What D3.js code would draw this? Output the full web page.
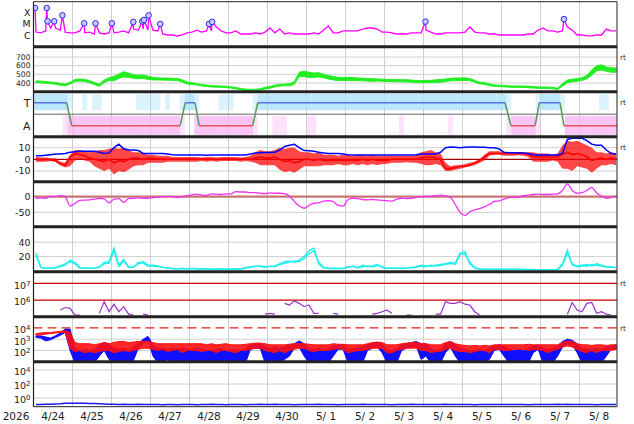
<!DOCTYPE html>
<html><head><meta charset="utf-8">
<script src="https://cdn.jsdelivr.net/npm/d3@7"></script>
<style>body{margin:0;background:#fff}svg{display:block;font-family:"DejaVu Sans",sans-serif}</style>
</head><body><svg id="c" width="634" height="424"></svg>
<script>
// ---------- DATA (3-hour bins starting 2026-04-24 00:00 UT, 8 per day) ----------
const dayLabels = ["4/24","4/25","4/26","4/27","4/28","4/29","4/30","5/ 1","5/ 2","5/ 3","5/ 4","5/ 5","5/ 6","5/ 7","5/ 8"];
const yearLabel = "2026";

// X-ray background flux (W/m2)
const xrayBase = [
 2.0e-6,1.7e-6,2.5e-6,4.6e-6,4.6e-6,3.0e-6,2.0e-6,1.7e-6,
 1.7e-6,2.5e-6,1.7e-6,2.0e-6,1.35e-6,1.7e-6,1.35e-6,1.7e-6,
 1.7e-6,2.0e-6,2.5e-6,1.7e-6,3.7e-6,3.0e-6,3.7e-6,3.0e-6,
 3.0e-6,2.5e-6,1.35e-6,1.1e-6,1.1e-6,0.9e-6,1.1e-6,1.7e-6,
 2.0e-6,3.0e-6,2.0e-6,2.5e-6,2.5e-6,5.6e-6,2.5e-6,1.7e-6,
 1.7e-6,2.5e-6,1.35e-6,1.35e-6,1.35e-6,1.7e-6,1.35e-6,2.0e-6,
 4.6e-6,1.7e-6,3.7e-6,1.35e-6,1.7e-6,1.35e-6,1.35e-6,1.35e-6,
 1.35e-6,1.7e-6,1.35e-6,3.0e-6,6.9e-6,1.7e-6,1.7e-6,2.5e-6,
 2.5e-6,2.5e-6,2.5e-6,3.7e-6,4.6e-6,4.6e-6,3.7e-6,2.0e-6,
 2.0e-6,1.7e-6,1.35e-6,1.35e-6,1.35e-6,1.7e-6,1.7e-6,1.7e-6,
 3.0e-6,2.0e-6,1.35e-6,1.35e-6,1.7e-6,1.7e-6,1.7e-6,1.7e-6,
 2.0e-6,5.6e-6,2.0e-6,1.7e-6,1.7e-6,1.35e-6,1.35e-6,1.1e-6,
 1.1e-6,1.1e-6,1.1e-6,1.1e-6,1.1e-6,1.35e-6,1.35e-6,3.0e-6,
 4.6e-6,2.5e-6,2.5e-6,2.0e-6,2.5e-6,5.6e-6,3.0e-6,1.1e-6,
 1.1e-6,0.9e-6,0.9e-6,1.1e-6,1.1e-6,3.7e-6,2.5e-6,2.5e-6];
// flare peaks: day offset, flux
const flareDay  = [0.04,0.34,0.36,0.53,0.74,1.30,1.59,2.01,2.56,2.79,2.83,2.95,3.25,4.50,4.58,10.05,13.60];
const flarePeak = [2.75e-4,2.75e-4,1.8e-5,1.8e-5,6.1e-5,1.2e-5,1.2e-5,1.2e-5,1.6e-5,1.8e-5,2.4e-5,6.1e-5,1.05e-5,1.05e-5,1.6e-5,1.7e-5,2.8e-5];

// solar wind speed (km/s) and scatter half-range
const speed = [
 415,412,408,402,397,385,378,398, 430,435,430,415,395,375,420,446,
 450,480,500,490,475,470,472,460, 450,448,446,445,444,440,425,400,
 395,385,375,368,362,360,358,356, 350,340,330,322,320,320,325,340,
 350,365,375,378,380,400,500,505, 495,490,495,480,466,455,448,446,
 446,445,444,440,437,435,435,433, 430,428,427,426,425,422,418,415,
 420,418,422,425,432,440,443,443, 445,440,420,400,395,380,370,366,
 365,360,358,358,357,355,350,347, 346,345,342,332,380,418,430,435,
 445,470,520,570,580,560,550,548];
const speedSpread = [
 10,10,10,10,10,10,10,10, 12,12,12,12,12,12,15,15,
 25,25,30,25,20,20,20,18, 15,12,12,12,12,12,12,12,
 10,8,8,8,8,8,8,8, 8,8,8,8,8,8,8,10,
 10,10,10,10,12,15,25,30, 30,25,25,20,20,20,18,18,
 18,18,15,15,15,15,12,12, 12,12,12,12,12,12,12,12,
 12,12,15,15,15,15,15,15, 15,12,10,10,10,10,8,8,
 8,8,8,8,8,8,8,8, 8,8,8,8,15,15,15,15,
 15,20,30,30,30,25,25,25];

// sector (T / A) boundaries
const sectorDay = [0,0.85,0.98,3.76,3.89,4.14,4.25,5.62,5.75,12.09,12.24,12.86,12.97,13.5,13.6,15];
const sectorVal = ["T","T","A","A","T","T","A","A","T","T","A","A","T","T","A","A"];
// IMF direction point density per bin (0 none, 1 sparse, 2 dense)
const towardDots = [
 2,2,2,2,2,2,2,1, 0,0,1,0,1,1,0,0, 0,0,0,0,0,1,1,1, 1,1,0,1,0,0,1,2,
 2,1,0,0,0,0,1,1, 1,0,0,0,0,1,2,2, 2,2,2,2,2,2,2,2, 2,2,2,2,2,2,2,2,
 2,2,2,2,2,2,2,2, 2,2,2,2,2,2,2,2, 2,2,2,2,2,2,2,2, 2,2,2,2,2,2,2,2,
 2,1,0,0,0,0,0,1, 2,2,2,2,1,0,0,0, 0,0,0,0,1,1,0,0];
const awayDots = [
 0,0,0,0,0,0,1,2, 2,2,2,2,2,2,2,2, 2,2,2,2,2,2,2,2, 2,2,2,2,2,2,1,0,
 0,2,2,2,2,2,2,2, 2,2,2,2,2,1,0,0, 0,1,1,1,0,0,0,0, 1,1,0,0,0,0,0,0,
 0,0,0,0,0,0,0,0, 0,0,0,1,0,0,0,0, 0,0,0,0,0,1,0,0, 0,0,0,0,0,0,0,0,
 0,1,2,2,2,2,2,1, 0,0,0,0,0,2,2,2, 2,2,2,2,2,2,2,2];

// IMF Bt (nT) and Bz range (nT)
const bt = [
 3,3,3.5,4,4.5,4.5,5,6, 6.5,7,7,7,7,6,5,5.5,
 10,13,9,8,8,7.5,5,5, 5,5,5,4.5,4,3.7,3.7,3.7,
 3.8,3.6,3.7,3.5,3.7,3.8,3.7,3.6, 3.7,3.8,3.7,3.8,4.5,5.5,5.7,5.8,
 5.8,6,8,11,12,12.9,10,7.5, 7.4,7,6,5.5,5,5,5,4.5,
 4,3.8,3.7,3.7,3.7,3.8,3.7,3.6, 3.7,3.7,3.8,3.7,3.7,3.7,4,4.5,
 4.5,4.5,4.5,6,10,10.5,10.3,10, 10.3,10.5,10.5,10.3,10.3,10,10,9,
 6,5.7,5.7,5.6,5.5,5,4,3.8, 3.7,3.7,3.7,3.8,5,17,18,18,
 18,16,13,12,12,8,5,4.5];
const bzLo = [
 -2,-2,-2,-1.5,-2,-5,-7,-6, -1,0,-1,-2,-6,-8,-10,-8,
 -13,-10,-11,-9,-6,-5,-5,-3, -3,-3,-3,-2,-2,-2,-2,-2,
 -2,-2,-1.5,-2,-1.5,-2,-1.5,-1.5, -1.5,-1.5,-2,-1.5,-2,-3,-5,-5,
 -5,-5,-9,-11,-10,-11.5,-9,-6, -6,-6,-6,-5,-5,-5,-4,-5,
 -5,-4,-5,-4,-5,-4,-5,-4, -4,-3,-3,-3,-2.5,-3,-3,-4,
 -5,-5,-4,-5,-10,-10,-9,-8, -7,-6,-5,-3,-1,3,4,4,
 3,3,3,3.5,3,2,-2,-2, -2,-2,-1,-2,-8,-8,-10,-6,
 -7,-8,-11.5,-8,-5,-5,-4,-5];
const bzHi = [
 2,1.5,1.5,1,1,-2,-3,4, 8,8,7,6,7,8,8,9,
 10,9,10,8,6,6,5,4, 4,3,3,3,2,2,2,2,
 2,2,1.5,2,2,1.5,2,2, 2,2,1.5,2,3,6,8,7,
 7,8,10,9,10,10,7,6, 6,5,6,4,4,4,3,4,
 4,3,4,4,3,4,3,3, 3,3,3,3,3,3,4,6,
 7,8,6,5,-3,-6,-5,-5, -4,-3,-2,0,4,7,7,7,
 6,6,6,6,6,6,6,5, 5,5,4,5,12,16,15,16,
 14,12,10,6,6,5,6,5];
// typical Bz level within each bin (nT)
const bzMid = [
 0,-0.5,0,-0.5,-1,-4,-5,2, 5,4,3,1,0,-1,-2,0,
 -3,-1,-2,0,1,1,0,1, 1,0,0,0,0,0,0,0,
 0,0,0,0,0,0,0,0, 0,0,0,0,0,1,2,1,
 1,2,0,-2,-1,-3,-2,0, 0,-1,0,-1,-1,-1,-1,-1,
 -1,-1,-1,0,-1,0,-1,-1, -1,0,0,0,0,0,0,1,
 2,2,1,0,-8,-8,-7,-6, -6,-5,-3,-1,2,5,5,5,
 5,5,5,5,5,4,2,2, 2,2,2,2,4,6,4,5,
 4,2,-1,0,1,0,1,0];

// Dst (nT)
const dst = [
 -5,-4,-5,1,0,3,0,-30, -22,-12,-11,-10,-8,-5,-7,-20,
 -8,-6,-18,-6,-5,-4,-5,-5, -3,-1,0,1,0,-2,0,3,
 6,8,5,4,9,8,7,9, 9,16,15,15,13,13,11,10,
 12,11,11,10,2,-15,-30,-37, -28,-21,-20,-14,-13,-16,-28,-30,
 -10,-5,-6,-9,-10,-9,-10,-12, -13,-14,-8,-5,-6,-5,-2,0,
 1,2,3,5,3,-2,-25,-50, -60,-48,-42,-38,-32,-25,-15,-13,
 -8,-3,-2,-1,3,5,7,8, 7,7,8,9,20,41,20,11,
 13,20,30,12,2,-5,-2,3];

// two cyan traces
const cyanA = [
 25,5,4,4,4,6,8,15, 12,5,4,4,4,5,12,13,
 32,8,16,6,5,10,13,8, 8,7,5,4,4,3,4,3,
 4,3,3,3,2.5,2.5,3,2.5, 2.5,3,2.5,5,6,6,7,6,
 6,7,10,13,14,12,15,20, 28,32,10,4,4,4,3.5,4,
 6,6,5,8,6,7,9,6, 4,4,3.5,4,4,5,6,8,
 7,7,8,9,10,10,11,25, 27,10,4,2.5,2.5,2.5,2.5,2.5,
 2.5,2.5,2.5,2.5,2,2,2,1.5, 1.5,1.5,1.5,2,10,29,8,7,
 8,9,7,10,8,6,5,5];
const cyanB = [
 22,5,4,4,5,7,10,13, 10,4,4,4,4,6,10,11,
 28,6,14,5,5,12,11,7, 7,6,5,4,3,3,3,3,
 3,3,3,2.5,2.5,2.5,2.5,2.5, 2.5,2.5,3,4,5,7,6,5,
 7,6,9,11,12,14,13,17, 24,28,12,5,3.5,3.5,3.5,3.5,
 5,7,4,6,7,6,8,5, 3.5,4,4,3.5,4,4.5,5,7,
 6,8,7,8,9,12,9,23, 24,12,5,2.5,2,2,2,2,
 2,2,2,2,2,1.5,1.5,1.5, 1.5,1.5,1.5,2,8,25,10,6,
 7,7,9,8,7,5,6,4];

// proton flux, log10 (null = below plot)
const n = null;
const protonLog = [
 n,n,n,n,n,5.4,5.55,5.5, 5.1,5.1,n,n,n,5.2,5.9,5.3,
 5.75,5.3,5.6,5.15,5.1,n,5.15,5.1, n,n,n,n,n,n,n,n,
 n,n,n,n,n,n,n,n, n,n,n,n,n,n,n,5.15,
 5.2,5.15,n,5.8,5.7,5.95,5.8,5.6, 5.7,5.2,5.2,n,n,5.2,5.15,n,
 n,n,n,n,n,5.15,5.2,5.3, 5.4,5.2,n,n,5.1,5.1,n,n,
 n,n,5.15,5.15,5.9,5.8,5.8,5.9, 5.75,5.7,5.3,5.1,n,n,n,n,
 n,n,n,n,n,n,n,n, n,n,n,n,n,5.15,5.85,5.4,
 5.3,5.8,5.85,5.2,5.3,5.15,5.1,n];

// electron flux, log10 ranges (blue and red channels)
const eBlueLo = [
 3.15,3.1,2.85,2.95,3.15,3.35,3.6,2.0, 0.9,0.9,0.9,0.9,0.9,1.5,2.0,1.2,
 0.9,0.9,0.9,0.9,1.1,2.2,2.6,2.9, 1.5,0.9,0.9,1.2,0.9,0.9,0.9,0.9,
 0.9,0.9,0.9,0.9,0.9,0.9,0.9,0.9, 0.9,0.9,0.9,0.9,2.1,2.2,2.2,0.9,
 0.9,0.9,0.9,1.2,1.5,2.2,2.3,1.5, 0.9,0.9,0.9,0.9,0.9,1.5,2.1,2.1,
 0.9,0.9,0.9,0.9,2.0,2.2,2.3,1.8, 0.9,0.9,0.9,2.0,2.2,2.3,2.4,1.2,
 1.5,0.9,0.9,0.9,1.8,2.3,1.5,0.9, 0.9,0.9,0.9,0.9,0.9,1.2,2.0,2.1,
 1.5,0.9,0.9,0.9,0.9,0.9,1.8,2.1, 0.9,0.9,0.9,1.5,2.3,2.6,2.5,1.8,
 0.9,0.9,0.9,0.9,0.9,1.5,2.1,2.1];
const eBlueHi = [
 3.3,3.3,3.2,3.1,3.3,3.55,3.9,3.9, 2.2,2.0,2.1,2.0,2.1,2.5,2.7,2.6,
 2.2,2.1,2.2,2.0,2.3,2.6,3.0,3.25, 2.5,2.2,2.2,2.1,2.2,2.1,2.2,2.1,
 2.1,2.2,2.1,2.0,2.0,2.1,2.2,2.0, 2.0,2.1,2.0,2.2,2.5,2.6,2.6,2.4,
 2.2,2.3,2.2,2.3,2.5,2.6,2.85,2.6, 2.2,2.1,2.2,2.0,2.2,2.4,2.5,2.5,
 2.1,2.2,2.2,2.3,2.5,2.6,2.7,2.6, 2.1,2.0,2.2,2.5,2.6,2.7,2.8,2.6,
 2.6,2.2,2.0,2.1,2.6,2.8,2.5,2.2, 2.1,2.0,2.0,2.1,2.0,2.2,2.4,2.5,
 2.4,2.1,2.0,2.1,2.0,2.2,2.4,2.5, 2.2,2.1,2.2,2.4,2.8,3.0,2.9,2.6,
 2.2,2.1,2.1,2.2,2.1,2.3,2.4,2.5];
const eRedLo = [
 3.35,3.4,3.45,3.5,3.55,3.6,3.62,2.2, 1.9,2.0,1.8,1.9,1.8,1.9,2.0,2.0,
 1.8,1.9,2.0,1.9,2.0,2.1,2.2,2.2, 2.1,2.0,2.1,1.9,2.0,2.1,1.8,2.0,
 2.0,2.0,1.9,2.0,2.0,1.8,2.0,2.0, 1.9,1.8,2.0,2.0,2.1,2.2,2.2,2.0,
 1.9,1.8,2.0,1.8,2.0,2.1,2.2,2.2, 2.0,1.9,2.0,2.0,2.0,2.1,2.2,2.1,
 1.8,1.9,2.0,2.0,2.1,2.2,2.2,2.2, 1.8,1.8,2.0,2.1,2.2,2.2,2.2,2.0,
 2.0,1.8,1.9,1.9,2.1,2.2,2.0,1.9, 1.9,1.8,1.9,2.0,2.0,1.8,2.1,2.1,
 2.0,2.0,2.1,2.1,2.1,2.0,2.1,2.1, 2.0,1.8,2.0,2.1,2.3,2.4,2.3,2.1,
 1.9,1.8,2.0,1.8,2.0,2.0,2.0,2.1];
const eRedHi = [
 3.5,3.55,3.6,3.6,3.65,3.7,3.75,3.6, 2.7,2.6,2.6,2.6,2.5,2.6,2.7,2.6,
 2.7,2.8,2.8,2.7,2.75,2.8,2.8,2.8, 2.7,2.6,2.6,2.6,2.6,2.6,2.6,2.6,
 2.6,2.6,2.6,2.5,2.6,2.5,2.55,2.6, 2.5,2.5,2.5,2.55,2.6,2.65,2.65,2.6,
 2.5,2.5,2.5,2.5,2.55,2.6,2.6,2.6, 2.55,2.5,2.5,2.5,2.5,2.6,2.55,2.55,
 2.5,2.5,2.5,2.5,2.6,2.7,2.75,2.7, 2.5,2.5,2.5,2.6,2.65,2.7,2.7,2.6,
 2.6,2.5,2.5,2.5,2.7,2.8,2.6,2.5, 2.45,2.4,2.45,2.4,2.45,2.4,2.5,2.5,
 2.5,2.5,2.5,2.5,2.5,2.55,2.5,2.5, 2.5,2.5,2.5,2.5,2.7,2.85,2.8,2.6,
 2.5,2.5,2.45,2.5,2.5,2.45,2.5,2.5];

// bottom panel flux
const lowFlux = [
 0.12,0.12,0.13,0.13,0.14,0.15,0.17,0.18, 0.18,0.17,0.17,0.16,0.16,0.15,0.14,0.13,
 0.13,0.12,0.13,0.12,0.12,0.13,0.12,0.12, 0.12,0.12,0.11,0.12,0.12,0.11,0.12,0.12,
 0.12,0.11,0.12,0.12,0.13,0.12,0.12,0.11, 0.12,0.12,0.12,0.11,0.12,0.12,0.13,0.12,
 0.12,0.13,0.12,0.12,0.12,0.11,0.12,0.12, 0.12,0.12,0.13,0.12,0.12,0.12,0.11,0.12,
 0.12,0.12,0.12,0.13,0.12,0.12,0.12,0.12, 0.12,0.11,0.12,0.12,0.12,0.13,0.12,0.12,
 0.12,0.12,0.12,0.12,0.13,0.12,0.12,0.12, 0.12,0.12,0.11,0.12,0.12,0.12,0.12,0.12,
 0.12,0.12,0.12,0.12,0.12,0.11,0.12,0.12, 0.12,0.12,0.12,0.13,0.12,0.13,0.12,0.12,
 0.12,0.12,0.12,0.11,0.12,0.12,0.12,0.12];

// ---------- CHART ----------
const svg = d3.select("#c");
const DAY = 864e5, t0 = Date.UTC(2026, 3, 24);
const X0 = 33.5, X1 = 617, H = 45;
const tops = [1.7, 46.7, 91.7, 136.7, 181.7, 226.7, 271.7, 316.7, 361.7];
const x = d3.scaleUtc().domain([new Date(t0), new Date(t0 + 14.96 * DAY)]).range([X0, X1]);
const binT = i => new Date(t0 + (i + 0.5) * 0.125 * DAY);
const dayT = d => new Date(t0 + d * DAY);

const yX = d3.scaleLog().domain([1e-7, 1e-3]).range([tops[0] + H, tops[0]]);
const yV = d3.scaleLinear().domain([300, 819]).range([tops[1] + H, tops[1]]);
const yS = d3.scaleLinear().domain([-1.96, 1.96]).range([tops[2] + H, tops[2]]);
const yB = d3.scaleLinear().domain([-19.2, 19.4]).range([tops[3] + H, tops[3]]);
const yD = d3.scaleLinear().domain([-96, 48]).range([tops[4] + H, tops[4]]);
const yC = d3.scaleLinear().domain([-1, 61.5]).range([tops[5] + H, tops[5]]);
const yP = d3.scaleLog().domain([1e5, Math.pow(10, 7.7)]).range([tops[6] + H, tops[6]]);
const yE = d3.scaleLog().domain([10, 1e5]).range([tops[7] + H, tops[7]]);
const yL = d3.scaleLog().domain([Math.pow(10, -1.25), Math.pow(10, 5.2)]).range([tops[8] + H, tops[8]]);

const defs = svg.append("defs");
tops.forEach((t, k) => defs.append("clipPath").attr("id", "cp" + k)
  .append("rect").attr("x", X0).attr("y", t).attr("width", X1 - X0).attr("height", H));
const panel = k => svg.append("g").attr("clip-path", `url(#cp${k})`);

// grid
const grid = svg.append("g").attr("stroke", "#cfcfcf").attr("stroke-width", 1);
d3.utcDay.range(new Date(t0 + DAY), new Date(t0 + 15 * DAY)).forEach(d => {
  grid.append("line").attr("x1", x(d)).attr("x2", x(d)).attr("y1", tops[0]).attr("y2", tops[8] + H);
});
const hgrid = [[yV, [400, 500, 600, 700]], [yB, [10, -10]], [yD, [-50]], [yC, [20, 40]],
  [yE, [1e2, 1e3]], [yL, [1, 1e2, 1e4]]];
hgrid.forEach(([s, vals]) => vals.forEach(v =>
  grid.append("line").attr("x1", X0).attr("x2", X1).attr("y1", s(v)).attr("y2", s(v))));

const idx = d3.range(120);

// panel 1: X-ray
{
  const g = panel(0);
  const pts = idx.map(i => [binT(i), xrayBase[i]])
    .concat(flareDay.map((d, j) => [dayT(d), flarePeak[j]]))
    .sort((a, b) => a[0] - b[0]);
  g.append("path").attr("d", d3.line().x(d => x(d[0])).y(d => yX(d[1]))(pts))
    .attr("fill", "none").attr("stroke", "#ff00ff").attr("stroke-width", 1.3);
  g.selectAll("circle").data(flareDay).join("circle")
    .attr("cx", d => x(dayT(d))).attr("cy", (d, j) => yX(flarePeak[j])).attr("r", 2.8)
    .attr("fill", "#c9c9ff").attr("stroke", "#2a2aee").attr("stroke-width", 1);
}
// panel 2: speed
{
  const g = panel(1);
  g.append("path").attr("d", d3.area().x(i => x(binT(i)))
      .y0(i => yV(speed[i] - speedSpread[i])).y1(i => yV(speed[i] + speedSpread[i]))(idx))
    .attr("fill", "#22ee22").attr("stroke", "#22ee22").attr("stroke-width", 1);
}
// panel 3: sector
{
  const g = panel(2);
  const band = (arr, lo, hi, col) => g.selectAll(null).data(idx.filter(i => arr[i] > 0)).join("rect")
    .attr("x", i => x(binT(i)) - 2.5).attr("width", 5)
    .attr("y", yS(hi)).attr("height", yS(lo) - yS(hi))
    .attr("fill", col).attr("opacity", i => arr[i] === 2 ? 0.8 : 0.4);
  band(towardDots, 0.35, 1.75, "#a8e2fb");
  band(awayDots, -1.8, -0.15, "#f7b6f2");
  g.append("line").attr("x1", X0).attr("x2", X1).attr("y1", yS(0)).attr("y2", yS(0))
    .attr("stroke", "#666").attr("stroke-width", 1);
  const sv = v => v === "T" ? 1 : -1;
  for (let i = 0; i < sectorDay.length - 1; i++) {
    const a = sectorVal[i], b = sectorVal[i + 1];
    const col = a !== b ? "#5e9a5e" : (a === "T" ? "#5b6fe6" : "#e8505a");
    g.append("line").attr("x1", x(dayT(sectorDay[i]))).attr("x2", x(dayT(sectorDay[i + 1])))
      .attr("y1", yS(sv(a))).attr("y2", yS(sv(b))).attr("stroke", col).attr("stroke-width", 1.6);
  }
}
// panel 4: Bt / Bz
{
  const g = panel(3);
  g.append("line").attr("x1", X0).attr("x2", X1).attr("y1", yB(0)).attr("y2", yB(0))
    .attr("stroke", "#a00000").attr("stroke-width", 1.2);
  g.append("path").attr("d", d3.area().x(i => x(binT(i))).y0(i => yB(bzLo[i])).y1(i => yB(bzHi[i]))(idx))
    .attr("fill", "#ff0000").attr("fill-opacity", 0.72).attr("stroke", "none");
  g.append("path").attr("d", d3.line().x(i => x(binT(i))).y(i => yB(bzMid[i]))(idx))
    .attr("fill", "none").attr("stroke", "#ff0000").attr("stroke-width", 1.6);
  g.append("path").attr("d", d3.line().x(i => x(binT(i))).y(i => yB(bt[i]))(idx))
    .attr("fill", "none").attr("stroke", "#0000ff").attr("stroke-width", 1.5);
}
// panel 5: Dst
{
  const g = panel(4);
  g.append("line").attr("x1", X0).attr("x2", X1).attr("y1", yD(0)).attr("y2", yD(0))
    .attr("stroke", "#c87474").attr("stroke-width", 2.2);
  g.append("path").attr("d", d3.line().curve(d3.curveMonotoneX).x(i => x(binT(i))).y(i => yD(dst[i]))(idx))
    .attr("fill", "none").attr("stroke", "#ee33ee").attr("stroke-width", 1.3);
}
// panel 6: cyan
{
  const g = panel(5);
  [cyanA, cyanB].forEach(arr => g.append("path")
    .attr("d", d3.line().x(i => x(binT(i))).y(i => yC(arr[i]))(idx))
    .attr("fill", "none").attr("stroke", "#22eeee").attr("stroke-width", 1.4));
}
// panel 7: protons
{
  const g = panel(6);
  [1e6, 1e7].forEach(v => g.append("line").attr("x1", X0).attr("x2", X1).attr("y1", yP(v)).attr("y2", yP(v))
    .attr("stroke", "#cc0000").attr("stroke-width", 1.2));
  g.append("path").attr("d", d3.line().defined(i => protonLog[i] !== null)
      .x(i => x(binT(i))).y(i => yP(Math.pow(10, protonLog[i])))(idx))
    .attr("fill", "none").attr("stroke", "#9a33cc").attr("stroke-width", 1.2);
}
// panel 8: electrons
{
  const g = panel(7);
  const ar = (lo, hi) => d3.area().x(i => x(binT(i)))
    .y0(i => yE(Math.pow(10, lo[i]))).y1(i => yE(Math.pow(10, hi[i])))(idx);
  g.append("path").attr("d", ar(eBlueLo, eBlueHi)).attr("fill", "#1010ff").attr("stroke", "#1010ff").attr("stroke-width", 1);
  g.append("path").attr("d", ar(eRedLo, eRedHi)).attr("fill", "#ff1010").attr("fill-opacity", 0.9).attr("stroke", "#ff1010").attr("stroke-width", 1);
  g.append("line").attr("x1", X0).attr("x2", X1).attr("y1", yE(1e4)).attr("y2", yE(1e4))
    .attr("stroke", "#e02020").attr("stroke-width", 1.2).attr("stroke-dasharray", "9,5");
}
// panel 9
{
  const g = panel(8);
  g.append("path").attr("d", d3.line().x(i => x(binT(i))).y(i => yL(lowFlux[i]))(idx))
    .attr("fill", "none").attr("stroke", "#1a1aee").attr("stroke-width", 1.5);
}

// frame
const fr = svg.append("g").attr("stroke", "#222");
tops.slice(1).forEach(t => fr.append("line").attr("x1", X0).attr("x2", X1).attr("y1", t).attr("y2", t).attr("stroke-width", 3));
fr.append("line").attr("x1", X0).attr("x2", X1).attr("y1", tops[0]).attr("y2", tops[0]).attr("stroke-width", 1);
fr.append("line").attr("x1", X0).attr("x2", X1).attr("y1", tops[8] + H).attr("y2", tops[8] + H).attr("stroke-width", 1);
fr.append("line").attr("x1", X0).attr("x2", X0).attr("y1", tops[0]).attr("y2", tops[8] + H).attr("stroke-width", 1.2);
fr.append("line").attr("x1", X1).attr("x2", X1).attr("y1", tops[0]).attr("y2", tops[8] + H).attr("stroke-width", 1);

// labels
const lab = svg.append("g").attr("fill", "#222").attr("font-size", 9.5).attr("text-anchor", "end");
const txt = (s, y, str, size) => lab.append("text").attr("x", 30.5).attr("y", s(y)).attr("dy", "0.35em")
  .attr("font-size", size || null).text(str);
[[1e-4, "X"], [1e-5, "M"], [1e-6, "C"]].forEach(([v, s]) => txt(yX, v, s, 9.4));
[400, 500, 600, 700].forEach(v => txt(yV, v, String(v), 7.6));
[[1, "T"], [-1, "A"]].forEach(([v, s]) => txt(yS, v, s, 11));
[10, 0, -10].forEach(v => txt(yB, v, String(v)));
[0, -50].forEach(v => txt(yD, v, String(v)));
[20, 40].forEach(v => txt(yC, v, String(v)));
const sup = (s, v, e) => {
  const t = lab.append("text").attr("x", 30.5).attr("y", s(v) + 2).attr("dy", "0.35em");
  t.append("tspan").text("10");
  t.append("tspan").attr("dy", "-0.45em").attr("font-size", 7).text(e);
};
[[1e6, "6"], [1e7, "7"]].forEach(([v, e]) => sup(yP, v, e));
[[1e2, "2"], [1e3, "3"], [1e4, "4"]].forEach(([v, e]) => sup(yE, v, e));
[[1, "0"], [1e2, "2"], [1e4, "4"]].forEach(([v, e]) => sup(yL, v, e));

// rt markers
const rt = svg.append("g").attr("font-size", 7.5).attr("fill", "#333");
[[yV, 700], [yS, 1], [yB, 10], [yP, 1e7], [yE, 1e4]].forEach(([s, v]) =>
  rt.append("text").attr("x", 620).attr("y", s(v)).attr("dy", "0.35em").text("rt"));

// x labels
const xl = svg.append("g").attr("font-size", 10.5).attr("fill", "#222").attr("text-anchor", "middle")
  .style("white-space", "pre");
xl.append("text").attr("x", 16).attr("y", 420).text(yearLabel);
dayLabels.forEach((s, k) => xl.append("text").attr("x", x(dayT(k + 0.5))).attr("y", 420).text(s));
</script></body></html>
